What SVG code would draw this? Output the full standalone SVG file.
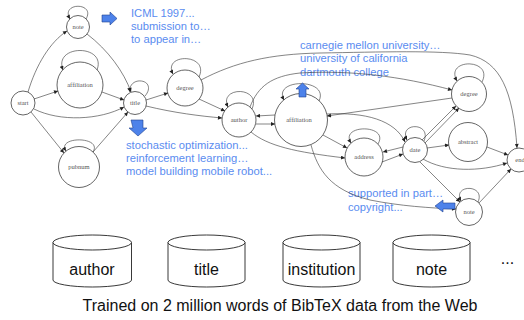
<svg xmlns="http://www.w3.org/2000/svg" width="524" height="320" viewBox="0 0 524 320">
<defs>
<marker id="ah" viewBox="0 0 10 10" refX="10" refY="5" markerWidth="5" markerHeight="4" orient="auto" markerUnits="userSpaceOnUse"><path d="M0,0 L10,5 L0,10 z" fill="#222"/></marker>
</defs>
<style>
.n{fill:#fff;stroke:#222;stroke-width:0.7}
.nl{font-family:"Liberation Serif",serif;font-size:6.5px;fill:#555;text-anchor:middle}
.e{fill:none;stroke:#333;stroke-width:0.6;marker-end:url(#ah)}
.bt{font-family:"Liberation Sans",Arial,sans-serif;font-size:11.2px;fill:#5a8cf0}
.ba{fill:#4d82ea;stroke:#1f3f8f;stroke-width:0.6}
.cy{fill:#fff;stroke:#222;stroke-width:0.9}
.ct{font-family:"Liberation Sans",Arial,sans-serif;font-size:16px;fill:#111;text-anchor:middle}
</style>
<rect width="524" height="320" fill="#fff"/>
<g id="annotations">
<text class="bt" x="131" y="17">ICML 1997...</text>
<text class="bt" x="131" y="30">submission to…</text>
<text class="bt" x="131" y="43">to appear in…</text>
<text class="bt" x="126" y="149">stochastic optimization...</text>
<text class="bt" x="126" y="162">reinforcement learning…</text>
<text class="bt" x="126" y="175">model building mobile robot...</text>
<text class="bt" x="300" y="49">carnegie mellon university…</text>
<text class="bt" x="300" y="62">university of california</text>
<text class="bt" x="300" y="75.5">dartmouth college</text>
<text class="bt" x="348" y="197">supported in part…</text>
<text class="bt" x="348" y="211">copyright...</text>
</g>
<g id="node-start"><circle class="n" cx="23" cy="103" r="12"/><text class="nl" x="23" y="105">start</text></g>
<g id="node-note1"><circle class="n" cx="78" cy="27" r="11.5"/><text class="nl" x="78" y="29">note</text></g>
<g id="node-affiliation1"><circle class="n" cx="80" cy="85" r="23"/><text class="nl" x="80" y="87">affiliation</text></g>
<g id="node-pubnum"><circle class="n" cx="79" cy="167" r="20.5"/><text class="nl" x="79" y="169">pubnum</text></g>
<g id="node-title"><circle class="n" cx="135" cy="103" r="11.5"/><text class="nl" x="135" y="105">title</text></g>
<g id="node-degree1"><circle class="n" cx="185" cy="88" r="18"/><text class="nl" x="185" y="90">degree</text></g>
<g id="node-author"><circle class="n" cx="239" cy="120" r="17"/><text class="nl" x="239" y="122">author</text></g>
<g id="node-affiliation2"><circle class="n" cx="301" cy="120" r="26.5"/><text class="nl" x="299" y="122">affiliation</text></g>
<g id="node-address"><circle class="n" cx="364" cy="157" r="19"/><text class="nl" x="364" y="159">address</text></g>
<g id="node-date"><circle class="n" cx="415" cy="150" r="12.5"/><text class="nl" x="415" y="152">date</text></g>
<g id="node-degree2"><circle class="n" cx="469" cy="94" r="17.5"/><text class="nl" x="469" y="96">degree</text></g>
<g id="node-abstract"><circle class="n" cx="468" cy="142" r="19.5"/><text class="nl" x="468" y="144">abstract</text></g>
<g id="node-end"><circle class="n" cx="519" cy="160" r="12"/><text class="nl" x="520" y="162">end</text></g>
<g id="node-note2"><circle class="n" cx="469" cy="212" r="13.5"/><text class="nl" x="469" y="214">note</text></g>
<g id="connectors">
<path class="e" d="M28,92 C36,65 50,42 67,31"/>
<path class="e" d="M34,99 L58,91"/>
<path class="e" d="M34,109 C60,122 100,120 124,107"/>
<path class="e" d="M31,112 L64,153"/>
<path class="e" d="M87,34 C108,50 124,72 131,92"/>
<path class="e" d="M102,92 L124,100"/>
<path class="e" d="M93,152 L128,112"/>
<path class="e" d="M146,100 L168,93"/>
<path class="e" d="M146,106 C175,113 200,116 222,118"/>
<path class="e" d="M199,99 L225,111"/>
<path class="e" d="M201,80 C235,62 270,54 320,53 C380,52 440,50 470,55 C500,62 513,90 517,148"/>
<path class="e" d="M256,124 L275,124"/>
<path class="e" d="M275,115 L256,116"/>
<path class="e" d="M250,107 C258,86 272,76 300,73 C350,70 400,76 452,90"/>
<path class="e" d="M452,98 L327,116"/>
<path class="e" d="M327,114 C365,112 395,120 405,142"/>
<path class="e" d="M323,135 L347,148"/>
<path class="e" d="M311,145 C318,170 330,190 370,200 C400,206 430,208 456,209"/>
<path class="e" d="M251,132 C268,146 295,152 345,158"/>
<path class="e" d="M403,147 L383,152"/>
<path class="e" d="M382,162 L403,154"/>
<path class="e" d="M422,140 L456,106"/>
<path class="e" d="M425,143 L459,108"/>
<path class="e" d="M427,148 L449,145"/>
<path class="e" d="M487,147 L508,155"/>
<path class="e" d="M423,159 C445,172 480,172 507,163"/>
<path class="e" d="M420,162 L460,202"/>
<path class="e" d="M479,203 L511,169"/>
<path class="e" d="M86,19 C96,2 60,2 70,19"/>
<path class="e" d="M97,70 C107,44 53,44 63,70"/>
<path class="e" d="M93,152 C103,136 56,136 66,151"/>
<path class="e" d="M145,96 C152,88 148,80 138,81 C132,82 129,87 130,92"/>
<path class="e" d="M199,77 C210,53 162,53 173,74"/>
<path class="e" d="M252,109 C262,86 218,86 228,107"/>
<path class="e" d="M319,101 C330,78 272,78 284,100"/>
<path class="e" d="M378,144 C390,124 339,124 351,143"/>
<path class="e" d="M424,141 C432,122 398,122 407,140"/>
<path class="e" d="M482,82 C494,58 444,58 457,81"/>
<path class="e" d="M478,202 C486,184 452,184 461,201"/>
</g>
<g id="blue-arrows">
<path class="ba" d="M102,15 L110,15 L110,12 L117,18.5 L110,25 L110,22 L102,22 Z"/>
<path class="ba" d="M131,120 L143,120 L143,128 L147,128 L138,136 L129,128 L133,128 Z"/>
<path class="ba" d="M299,97 L299,89 L296,89 L302.5,83 L309,89 L306,89 L306,97 Z"/>
<path class="ba" d="M455,203 L443,203 L443,200 L435,206 L443,212 L443,209 L455,209 Z"/>
</g>
<g id="db-author"><path class="cy" d="M53,242.5 A39.25,7.5 0 0 1 131.5,242.5 L131.5,280 A39.25,7 0 0 1 53,280 Z"/><path class="cy" fill="none" d="M53,242.5 A39.25,7.5 0 0 0 131.5,242.5"/><text class="ct" x="92" y="275">author</text></g>
<g id="db-title"><path class="cy" d="M168,242.5 A38.5,7.5 0 0 1 245,242.5 L245,280 A38.5,7 0 0 1 168,280 Z"/><path class="cy" fill="none" d="M168,242.5 A38.5,7.5 0 0 0 245,242.5"/><text class="ct" x="206.5" y="275">title</text></g>
<g id="db-institution"><path class="cy" d="M283,242.5 A38.5,7.5 0 0 1 360,242.5 L360,280 A38.5,7 0 0 1 283,280 Z"/><path class="cy" fill="none" d="M283,242.5 A38.5,7.5 0 0 0 360,242.5"/><text class="ct" x="321.5" y="275">institution</text></g>
<g id="db-note"><path class="cy" d="M393,242.5 A38.5,7.5 0 0 1 470,242.5 L470,280 A38.5,7 0 0 1 393,280 Z"/><path class="cy" fill="none" d="M393,242.5 A38.5,7.5 0 0 0 470,242.5"/><text class="ct" x="431.5" y="275">note</text></g>
<text class="ct" x="507.5" y="264">...</text>
<text class="ct" x="280" y="311">Trained on 2 million words of BibTeX data from the Web</text>
</svg>
